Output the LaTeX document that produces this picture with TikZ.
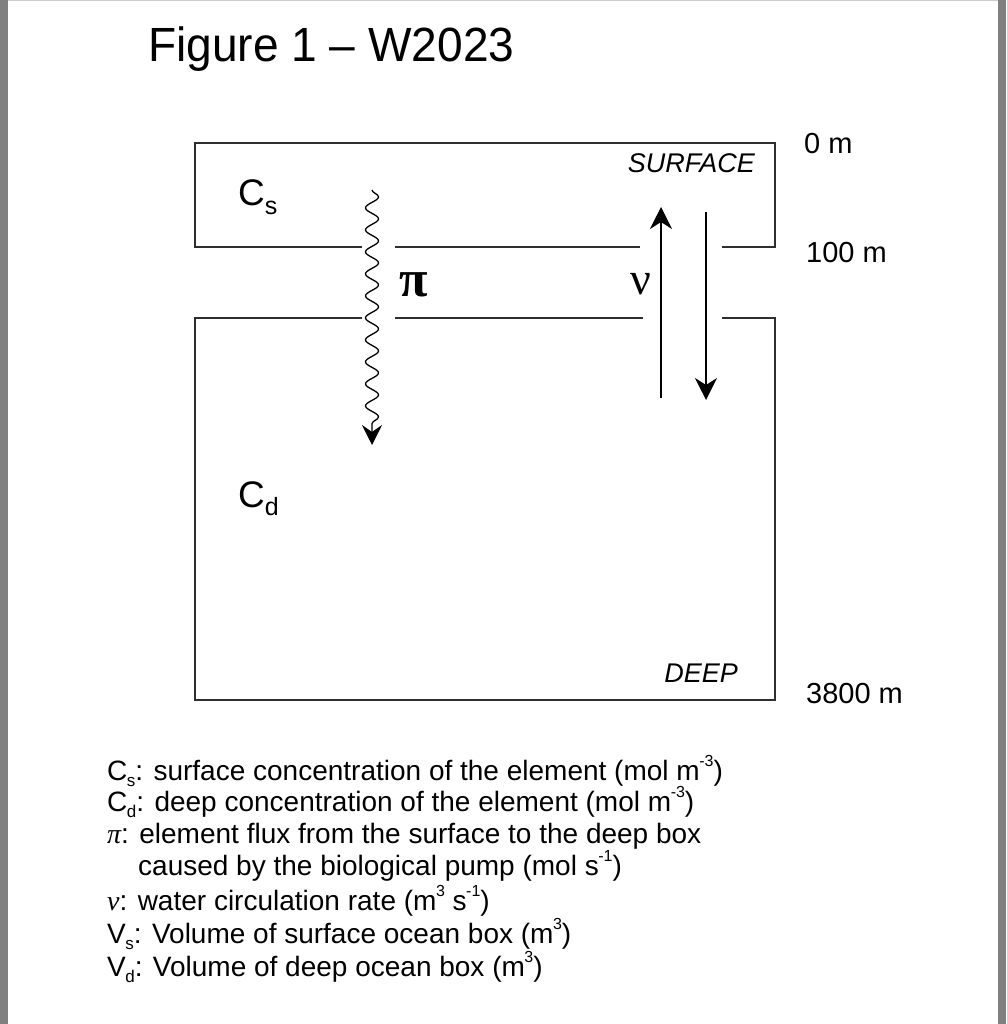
\documentclass[tikz,border=0pt]{standalone}
\usepackage{fontspec}
\setmainfont{Liberation Sans}
\newfontfamily\grk{Liberation Serif}
\usetikzlibrary{arrows.meta,decorations.pathmorphing}
\newcommand\fs[1]{\fontsize{#1}{#1}\selectfont}
\newcommand\lsub[1]{\kern-0.5pt\raisebox{-0.22em}{\fs{17}#1}}
\newcommand\lsup[1]{\kern-0.5pt\raisebox{0.5em}{\fs{16}#1}}
\newcommand\bsub[1]{\raisebox{-0.22em}{\fs{25}#1}}
\begin{document}
\begin{tikzpicture}[x=1pt,y=-1pt,
  boxline/.style={line width=2pt,draw=black!82},
  flowarrow/.style={line width=1.4pt,-{Stealth[length=22pt,width=22pt,inset=7pt]}},
  lbl/.style={inner sep=0pt,anchor=base west},
  legend/.style={inner sep=0pt,anchor=base west,font=\fs{28}},
  depth/.style={inner sep=0pt,anchor=base west,font=\fs{29}},
  boxname/.style={inner sep=0pt,anchor=base east,font=\fs{27}\itshape}]
\useasboundingbox (0,0) rectangle (1006,1024);
\fill[white] (0,0) rectangle (1006,1024);
\fill[black!50] (0,0) rectangle (8,1024);
\fill[black!50] (998,0) rectangle (1006,1024);
\draw[black!20,line width=1pt] (8,0.5) -- (998,0.5);

% title
\node[lbl,font=\fs{48}] (title) at (148,62) {\scalebox{0.96}[1]{Figure 1 – W2023}};

% surface box
\coordinate (s1) at (362,247);
\coordinate (s2) at (395,247);
\coordinate (s3) at (640,247);
\coordinate (s4) at (722,247);
\draw[boxline] (s1) -- (195,247) -- (195,143) -- (775,143) -- (775,247) -- (s4);
\draw[boxline] (s2) -- (s3);
% deep box
\coordinate (d1) at (362,318);
\coordinate (d2) at (395,318);
\coordinate (d3) at (643,318);
\coordinate (d4) at (722,318);
\draw[boxline] (d1) -- (195,318) -- (195,700) -- (775,700) -- (775,318) -- (d4);
\draw[boxline] (d2) -- (d3);

% labels
\node[lbl,font=\fs{37}] (cs) at (238,206) {C\bsub{s}};
\node[lbl,font=\fs{37}] (cd) at (238,507) {C\bsub{d}};
\node[boxname] (surf) at (755,173) {SURFACE};
\node[boxname] (deep) at (738,682) {DEEP};
\node[lbl,font=\grk\fs{52}\bfseries] (pi) at (399,296) {π};
\node[lbl,font=\grk\fs{46}] (nu) at (630,294) {ν};

% depths
\node[depth] (z0) at (804,154) {0 m};
\node[depth] (z1) at (806,262) {100 m};
\node[depth] (z2) at (806,703) {3800 m};

% biological pump
\coordinate (w1) at (372,190);
\coordinate (w2) at (372,445);
\draw[line width=1.3pt,-{Stealth[length=20pt,width=20pt,inset=7pt]},
  decorate,decoration={snake,amplitude=6.5pt,segment length=22pt,post length=16pt}] (w1) -- (w2);

% circulation
\coordinate (u1) at (661,398);
\coordinate (u2) at (661,207);
\coordinate (v1) at (706,212);
\coordinate (v2) at (706,400);
\draw[flowarrow] (u1) -- (u2);
\draw[flowarrow] (v1) -- (v2);

% legend
\node[legend] (l1) at (107,780) {C\lsub{s}: surface concentration of the element (mol m\lsup{-3})};
\node[legend] (l2) at (107,811) {C\lsub{d}: deep concentration of the element (mol m\lsup{-3})};
\node[legend] (l3) at (107,843) {{\grk\itshape π}: element flux from the surface to the deep box};
\node[legend] (l4) at (138,875) {caused by the biological pump (mol s\lsup{-1})};
\node[legend] (l5) at (107,910) {{\grk\itshape ν}: water circulation rate (m\lsup{3} s\lsup{-1})};
\node[legend] (l6) at (107,943) {V\lsub{s}: Volume of surface ocean box (m\lsup{3})};
\node[legend] (l7) at (107,976) {V\lsub{d}: Volume of deep ocean box (m\lsup{3})};
\end{tikzpicture}
\end{document}
